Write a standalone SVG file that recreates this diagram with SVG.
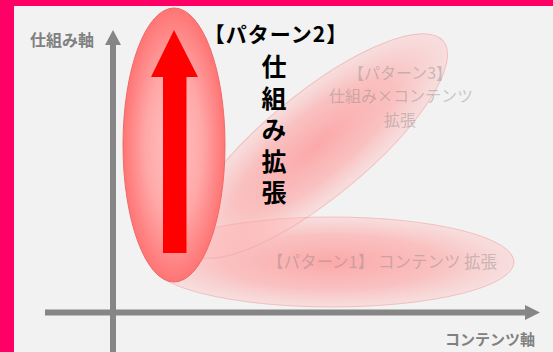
<svg xmlns="http://www.w3.org/2000/svg" width="553" height="352" viewBox="0 0 553 352">
  <style>
    text { font-family: "Noto Sans CJK JP", "Liberation Sans", sans-serif; }
    .axis { stroke: #868686; stroke-width: 6; fill: none; }
    .axishead { fill: #868686; }
    .axislabel { fill: #808080; font-size: 16px; font-weight: bold; }
    .faint { fill: #808080; fill-opacity: 0.4; font-size: 16px; text-anchor: middle; }
    .title { fill: #000; font-weight: bold; text-anchor: middle; }
    .soft { fill: url(#softGrad); stroke: #f2a3a3; stroke-opacity: 0.6; stroke-width: 1; }
  </style>
  <defs>
    <radialGradient id="redGrad" cx="0.5" cy="0.5" r="0.5">
      <stop offset="0" stop-color="#ffc4c4"/>
      <stop offset="0.55" stop-color="#ffa8a8"/>
      <stop offset="1" stop-color="#ff7474"/>
    </radialGradient>
    <radialGradient id="softGrad" cx="0.5" cy="0.5" r="0.5">
      <stop offset="0" stop-color="#ff9090" stop-opacity="0.75"/>
      <stop offset="0.6" stop-color="#ffa0a0" stop-opacity="0.6"/>
      <stop offset="1" stop-color="#ffc0c0" stop-opacity="0.4"/>
    </radialGradient>
  </defs>

  <rect x="0" y="0" width="553" height="352" fill="#FF0066"/>
  <rect x="14" y="6" width="539" height="346" fill="#F2F2F2"/>

  <g id="connectors">
    <line class="axis" x1="113" y1="352" x2="113" y2="44"/>
    <polygon class="axishead" points="113,30 105,45 121,45"/>
    <line class="axis" x1="45" y1="312.5" x2="526" y2="312.5"/>
    <polygon class="axishead" points="540,312.5 525,305 525,320"/>
  </g>

  <g id="axis-labels">
    <text class="axislabel" x="30" y="46">仕組み軸</text>
    <text class="axislabel" x="445" y="345" style="font-size:15px">コンテンツ軸</text>
  </g>

  <g id="pattern1">
    <ellipse class="soft" cx="332" cy="262" rx="182" ry="45"/>
    <text class="faint" x="382" y="268" style="font-size:16.5px">【パターン1】 コンテンツ 拡張</text>
  </g>

  <g id="pattern3">
    <ellipse class="soft" cx="316" cy="146" rx="165" ry="52" transform="rotate(-39.5 316 146)"/>
    <text class="faint" x="400" y="79">【パターン3】</text>
    <text class="faint" x="401" y="102">仕組み×コンテンツ</text>
    <text class="faint" x="400" y="126">拡張</text>
  </g>

  <g id="pattern2">
    <ellipse cx="174" cy="145" rx="51" ry="137" fill="url(#redGrad)" stroke="#f06a6a" stroke-width="1"/>
    <polygon fill="#FF0000" points="174,30 198,77 186.5,77 186.5,253 163,253 163,77 151,77"/>
    <text class="title" x="276" y="42" style="font-size:21px;letter-spacing:1px">【パターン2】</text>
    <text x="274" y="54" style="writing-mode:vertical-rl;font-size:25px;font-weight:bold;letter-spacing:6.5px;fill:#000">仕組み拡張</text>
  </g>
</svg>
